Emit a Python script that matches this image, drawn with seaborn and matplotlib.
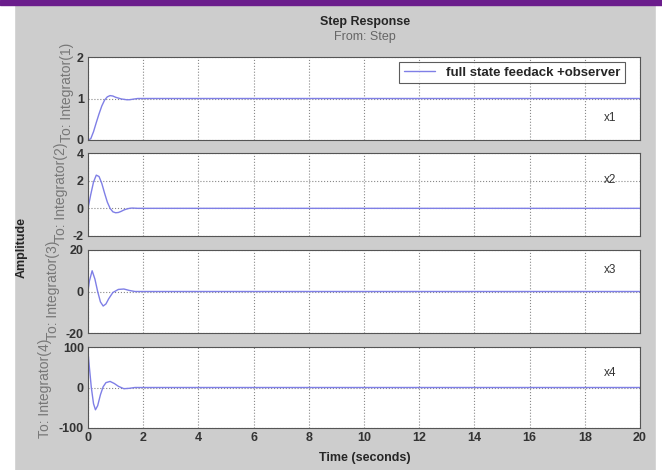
import pandas as pd
import matplotlib
matplotlib.use("Agg")
import matplotlib.pyplot as plt
import seaborn as sns
from matplotlib.patches import Rectangle

# Datos (respuesta al escalon)
t1 = [0, 0.1, 0.2, 0.3, 0.4, 0.5, 0.6, 0.7, 0.8, 0.9, 1.0, 1.1, 1.2, 1.3, 1.4, 1.5, 1.6, 1.7, 1.8, 20]
x1 = [0, 0.03, 0.2, 0.42, 0.63, 0.82, 0.96, 1.04, 1.07, 1.06, 1.03, 1.01, 0.99, 0.98, 0.97, 0.97, 0.98, 0.99, 1.0, 1.0]

t2 = [0, 0.1, 0.2, 0.3, 0.4, 0.5, 0.6, 0.7, 0.8, 0.9, 1.0, 1.1, 1.2, 1.3, 1.4, 1.5, 1.6, 1.7, 1.8, 20]
x2 = [0, 1.0, 1.9, 2.4, 2.3, 1.8, 1.1, 0.45, 0.0, -0.25, -0.32, -0.3, -0.22, -0.12, -0.05, 0, 0.02, 0.01, 0, 0]

t3 = [0, 0.05, 0.15, 0.25, 0.35, 0.45, 0.55, 0.65, 0.75, 0.9, 1.1, 1.3, 1.5, 1.7, 1.9, 20]
x3 = [0, 5, 10, 6, 0, -5, -7, -6, -3.5, -0.5, 1, 1.2, 0.5, 0, 0, 0]

t4 = [0, 0.05, 0.12, 0.2, 0.27, 0.35, 0.45, 0.55, 0.65, 0.8, 0.95, 1.1, 1.3, 1.5, 1.7, 1.9, 20]
x4 = [88, 50, 0, -40, -55, -45, -18, 2, 12, 15, 10, 3, -3, -2, 0, 0, 0]

estados = ["x1", "x2", "x3", "x4"]
y_lims = [(0, 2), (-2, 4), (-20, 20), (-100, 100)]
y_ticks = [[0, 1, 2], [-2, 0, 2, 4], [-20, 0, 20], [-100, 0, 100]]
x_ticks = list(range(0, 21, 2))
etiquetas_y = ["To: Integrator(1)", "To: Integrator(2)", "To: Integrator(3)", "To: Integrator(4)"]
leyenda = "full state feedack +observer"

series = [(t1, x1), (t2, x2), (t3, x3), (t4, x4)]

sns.set_style("white")
plt.rcParams["font.family"] = ["Liberation Sans", "DejaVu Sans"]
plt.rcParams["axes.unicode_minus"] = False

fig = plt.figure(figsize=(6.62, 4.70), dpi=100)
fig.patch.set_facecolor("#cdcdcd")

# Marco blanco y barra morada
fig.patches.append(Rectangle((0, 0), 14 / 662, 1, transform=fig.transFigure, color="white", zorder=0))
fig.patches.append(Rectangle((656 / 662, 0), 6 / 662, 1, transform=fig.transFigure, color="white", zorder=0))
fig.patches.append(Rectangle((0, 465 / 470), 1, 5 / 470, transform=fig.transFigure, color="#6b1d8c", zorder=0))

# Posiciones de los paneles (en pixeles: top, bottom)
paneles = [(57, 140), (153, 236), (250, 333), (347, 428)]
pos_texto = [0.27, 0.67, 0.76, 0.68]
color_linea = "#7f7fe6"

axes = []
for i, (top, bottom) in enumerate(paneles):
    ax = fig.add_axes([88 / 662, 1 - bottom / 470, 552 / 662, (bottom - top) / 470])
    t, x = series[i]
    df = pd.DataFrame({"t": t, "y": x})
    sns.lineplot(data=df, x="t", y="y", ax=ax, color=color_linea, lw=1.0,
                 label=leyenda if i == 0 else None, legend=(i == 0))
    ax.set_xlim(0, 20)
    ax.set_ylim(*y_lims[i])
    ax.set_xticks(x_ticks)
    ax.set_yticks(y_ticks[i])
    ax.grid(True, linestyle=":", color="#888888", lw=0.8)
    ax.tick_params(direction="in", length=3, labelsize=9, colors="#333333", pad=3)
    for lbl in ax.get_xticklabels() + ax.get_yticklabels():
        lbl.set_fontweight("bold")
    ax.set_xlabel("")
    ax.set_ylabel("")
    for s in ax.spines.values():
        s.set_color("#555555")
        s.set_linewidth(0.8)
    if i < 3:
        ax.set_xticklabels([])
    ax.text(0.945, pos_texto[i], estados[i], transform=ax.transAxes, fontsize=8.5, color="#333333",
            ha="center", va="center")
    axes.append(ax)

leg = axes[0].legend(loc="upper right", fontsize=9.5, frameon=True, fancybox=False,
                     handlelength=2.4, borderpad=0.35, borderaxespad=0,
                     bbox_to_anchor=((625 - 88) / 552, (140 - 62) / 83))
leg.get_frame().set_edgecolor("#333333")
leg.get_frame().set_linewidth(0.8)
for txt in leg.get_texts():
    txt.set_fontweight("bold")

# Etiquetas de ejes y titulos
fig.text(365 / 662, 1 - 22 / 470, "Step Response", ha="center", va="center", fontsize=9, fontweight="bold")
fig.text(365 / 662, 1 - 37 / 470, "From: Step", ha="center", va="center", fontsize=9, color="#666666")
fig.text(22 / 662, 1 - 247 / 470, "Amplitude", ha="center", va="center", rotation=90, fontsize=9, fontweight="bold")
fig.text(365 / 662, 1 - 458 / 470, "Time (seconds)", ha="center", va="center", fontsize=9, fontweight="bold")

pos_etq = [(67, 92), (61, 192), (53, 290), (45, 388)]
for (px, py), etq in zip(pos_etq, etiquetas_y):
    fig.text(px / 662, 1 - py / 470, etq, ha="center", va="center", rotation=90,
             fontsize=10, color="#777777")

fig.savefig("out.png", dpi=100, facecolor=fig.get_facecolor())
